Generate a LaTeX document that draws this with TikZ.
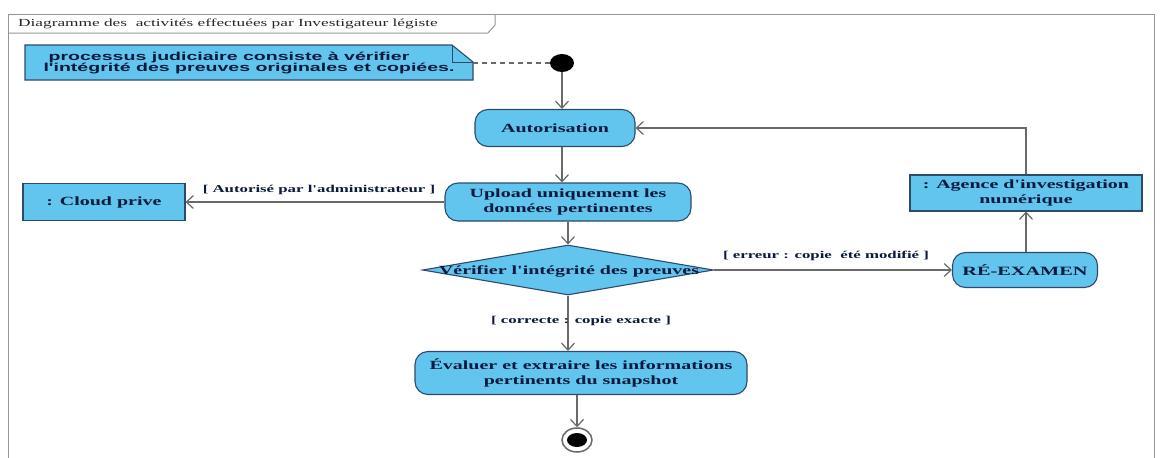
\documentclass[tikz,border=0pt]{standalone}
\usepackage{fontspec}
\usetikzlibrary{arrows.meta,shapes.geometric}
\newfontfamily\boxfont{Liberation Serif}[FakeStretch=1.6]
\newfontfamily\notefont{Liberation Sans}[FakeStretch=1.7]
\definecolor{actfill}{RGB}{98,197,238}
\definecolor{actedge}{RGB}{45,75,105}
\definecolor{ink}{RGB}{10,25,60}
\definecolor{wire}{RGB}{105,105,105}
\definecolor{framegrey}{RGB}{150,150,150}

\begin{document}
\begin{tikzpicture}[x=1pt,y=-1pt,
  boxtext/.style={text=ink, align=center, inner sep=0pt,
    font=\boxfont\bfseries\fontsize{12.5}{15}\selectfont},
  act/.style={boxtext, draw=actedge, fill=actfill, line width=1.1pt, rounded corners=13pt},
  obj/.style={boxtext, draw=actedge, fill=actfill, line width=1.1pt},
  flow/.style={draw=wire, line width=1.2pt,
    -{Straight Barb[length=7pt,width=13pt,line width=1.2pt]}},
  guard/.style={text=ink, inner sep=0pt,
    font=\boxfont\bfseries\fontsize{10.5}{12}\selectfont},
]
\useasboundingbox (0,0) rectangle (1160,458);

% diagram frame and its title tab
\draw[framegrey, line width=1pt] (8,458) -- (8,14) -- (1154,14) -- (1154,458);
\draw[framegrey, line width=1pt] (8,33) -- (488,33) -- (495,25) -- (495,14);
\node[anchor=west, inner sep=0pt, text=black!85,
      font=\boxfont\fontsize{10.8}{12}\selectfont] (title) at (18,24)
  {Diagramme des~ activités effectuées par Investigateur légiste};

% comment note with folded corner
\draw[draw=actedge, fill=actfill, line width=1.1pt]
  (25,45) -- (452,45) -- (473,62) -- (473,80) -- (25,80) -- cycle;
\draw[actedge, line width=1pt] (452,45) -- (452,62) -- (473,62);
\node[text=ink, align=center, inner sep=0pt,
      font=\notefont\bfseries\fontsize{11.5}{11.5}\selectfont] (note) at (249,63)
  {processus judiciaire consiste à vérifier\hspace*{40pt}\\l'intégrité des preuves originales et copiées.};
\coordinate (notetip) at (473,63);

% start and end
\node[ellipse, fill=black, minimum width=24, minimum height=18, inner sep=0pt] (init) at (562,63) {};
\node[ellipse, draw=wire, line width=1.5pt, fill=white, minimum width=30, minimum height=24, inner sep=0pt] (final) at (577,440) {};
\fill[black] (final.center) ellipse (10 and 7);

% activities and objects
\node[act, minimum width=160, minimum height=37] (auth) at (555,128) {Autorisation};
\node[act, minimum width=246, minimum height=38] (upload) at (568,202) {Upload uniquement les\\données pertinentes};
\node[obj, minimum width=162, minimum height=37] (cloud) at (104,202) {: Cloud prive};
\node[diamond, draw=actedge, fill=actfill, line width=1.1pt, minimum width=291, minimum height=50, inner sep=0pt] (dec) at (568,270) {};
\node[boxtext] (dectext) at (569,271) {Vérifier l'intégrité des preuves};
\node[act, minimum width=332, minimum height=43] (eval) at (581,373) {Évaluer et extraire les informations\\pertinents du snapshot};
\node[act, minimum width=145, minimum height=35, font=\boxfont\bfseries\fontsize{12.7}{15}\selectfont] (reexam) at (1025,270) {RÉ-EXAMEN};
\node[obj, minimum width=232, minimum height=36] (agence) at (1026,193) {: Agence d'investigation\\numérique};

% control flows
\draw[wire, line width=1.1pt, dashed, dash pattern=on 5pt off 4pt] (notetip) -- (init);
\draw[flow] (init) -- (init |- auth.north);
\draw[flow] (auth.south -| init) -- (upload.north -| init);
\draw[flow] (upload.west) -- (cloud.east |- upload.west);
\draw[flow] (upload.south -| dec.north) -- (dec.north);
\draw[flow] (dec.south) -- (dec.south |- eval.north);
\draw[flow] (eval.south -| final) -- (final.north);
\draw[flow] (dec.east) -- (dec.east -| reexam.west);
\draw[flow] (reexam.north -| agence) -- (agence.south);
\draw[flow] (agence.north) -- (agence.north |- auth.east) -- (auth.east);

% guards
\node[guard] (g1) at (319,190) {[ Autorisé par l'administrateur ]};
\node[guard] (g2) at (826,256) {[ erreur : copie~ été modifié ]};
\node[guard] (g3) at (581,321) {[ correcte : copie exacte ]};
\end{tikzpicture}
\end{document}
